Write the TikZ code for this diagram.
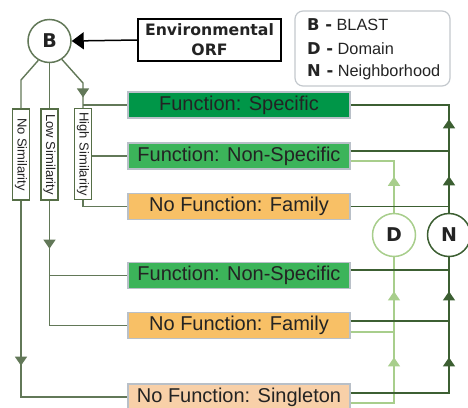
\documentclass[tikz,border=0pt]{standalone}
\usepackage{fontspec}
\setmainfont{Liberation Sans}
\newfontfamily\heavy{DejaVu Sans}
\usetikzlibrary{arrows.meta,decorations.markings}
\definecolor{bgreen}{RGB}{98,120,88}
\definecolor{vgreen}{RGB}{85,110,70}
\definecolor{ngreen}{RGB}{60,95,50}
\definecolor{dgreen}{RGB}{168,206,140}
\definecolor{fsfill}{RGB}{0,150,72}
\definecolor{fnsfill}{RGB}{60,180,90}
\definecolor{nfffill}{RGB}{248,192,102}
\definecolor{singfill}{RGB}{248,208,168}
\definecolor{boxgray}{RGB}{185,192,200}
\definecolor{leggray}{RGB}{195,200,205}
\definecolor{txt}{RGB}{35,35,35}
\tikzset{
  fbox/.style={draw=boxgray, line width=1.2pt, minimum width=222pt, minimum height=26pt, inner sep=0pt, text=txt, font=\fontsize{20}{24}\selectfont},
  simbox/.style={draw=vgreen, line width=1.3pt, fill=white, minimum width=17pt, minimum height=91pt, inner sep=0pt, text=txt, font=\fontsize{13}{15}\selectfont},
  circ/.style={circle, line width=1.5pt, fill=white, minimum size=43pt, inner sep=0pt, text=txt, font=\heavy\bfseries\fontsize{19}{19}\selectfont},
  bline/.style={draw=bgreen, line width=1.4pt},
  nline/.style={draw=ngreen, line width=1.4pt},
  dline/.style={draw=dgreen, line width=1.4pt},
  arr/.style={postaction={decorate, decoration={markings, mark=at position #1 with {\arrow{Triangle[width=12pt,length=9pt]}}}}},
  legtxt/.style={anchor=west, inner sep=0pt, text=txt, font=\fontsize{16.3}{18}\selectfont}
}
\begin{document}
\begin{tikzpicture}[x=1pt,y=-1pt]
\useasboundingbox (0,0) rectangle (468,407);
% top
\node[circ, draw=bgreen] (B) at (49.5,41) {B};
\node[draw=black, line width=1.4pt, minimum width=143pt, minimum height=42pt, inner sep=0pt, text=txt, align=center, font=\heavy\bfseries\fontsize{15.7}{20}\selectfont] (orf) at (209.5,40) {Environmental\\ORF};
\draw[line width=1.5pt, -{Triangle[width=17pt,length=12pt]}] (orf.west) -- (B.east);
\node[draw=leggray, rounded corners=8pt, line width=1.2pt, minimum width=155pt, minimum height=75pt, inner sep=0pt] (leg) at (372.5,48.5) {};
\node[legtxt] (l1) at (307,25) {{\heavy\bfseries B -} BLAST};
\node[legtxt] (l2) at (307,48.5) {{\heavy\bfseries D -} Domain};
\node[legtxt] (l3) at (307,72) {{\heavy\bfseries N -} Neighborhood};
% similarity boxes
\node[simbox] (nosim) at (21,154.5) {\rotatebox{-90}{No Similarity}};
\node[simbox] (lowsim) at (49.5,154.5) {\rotatebox{-90}{Low Similarity}};
\node[simbox] (highsim) at (83,154) {\rotatebox{-90}{High Similarity}};
% result boxes
\node[fbox, fill=fsfill] (fs) at (239,105) {Function: Specific};
\node[fbox, fill=fnsfill] (fns1) at (239,156) {Function: Non-Specific};
\node[fbox, fill=nfffill] (nff1) at (239,206.5) {No Function: Family};
\node[fbox, fill=fnsfill] (fns2) at (239,275.5) {Function: Non-Specific};
\node[fbox, fill=nfffill] (nff2) at (239,325.5) {No Function: Family};
\node[fbox, fill=singfill] (sing) at (239,397) {No Function: Singleton};
% D and N
\node[circ, draw=dgreen] (D) at (394,235) {D};
\node[circ, draw=ngreen] (N) at (449,235) {N};
% B branches
\coordinate (nb) at (21,80);
\coordinate (hb) at (83,83);
\draw[bline] (B.-120) -- (nb) -- (nosim.north);
\draw[bline] (B.south) -- (lowsim.north);
\draw[bline, arr=46pt] (B.-56) -- (hb) -- (highsim.north);
\draw[bline] (hb |- fs.west) -- (fs.west);
\draw[bline] (highsim.east |- fns1.west) -- (fns1.west);
\draw[bline] (highsim.south) |- (nff1.west);
\draw[bline, arr=48pt] (lowsim.south) |- (fns2.west);
\draw[bline] (lowsim.south) |- (nff2.west);
\draw[bline, arr=165pt] (nosim.south) |- (sing.west);
% N and D connections
\coordinate (fns1n) at ([yshift=5pt]fns1.east);
\coordinate (fns1d) at ([yshift=-5pt]fns1.east);
\coordinate (fns2n) at ([yshift=5.5pt]fns2.east);
\coordinate (nff2n) at ([yshift=4.5pt]nff2.east);
\coordinate (nff2d) at ([yshift=-6.5pt]nff2.east);
\coordinate (singn) at ([yshift=4pt]sing.east);
\coordinate (singd) at ([yshift=-6pt]sing.east);
\draw[dline, arr=36pt] (D.north) |- (fns1d);
\draw[dline, arr=89pt, arr=155pt] (singd) -| (D.south);
\draw[dline] (nff2d) -- (nff2d -| D);
\draw[nline, arr=36.5pt, arr=93.5pt] (N.north) |- (fs.east);
\draw[nline] (fns1n) -- (fns1n -| N);
\draw[nline] (nff1.east) -- (nff1.east -| N);
\draw[nline, arr=134pt, arr=200pt] (singn) -| (N.south);
\draw[nline] (fns2n) -- (fns2n -| N);
\draw[nline] (nff2n) -- (nff2n -| N);
\end{tikzpicture}
\end{document}
